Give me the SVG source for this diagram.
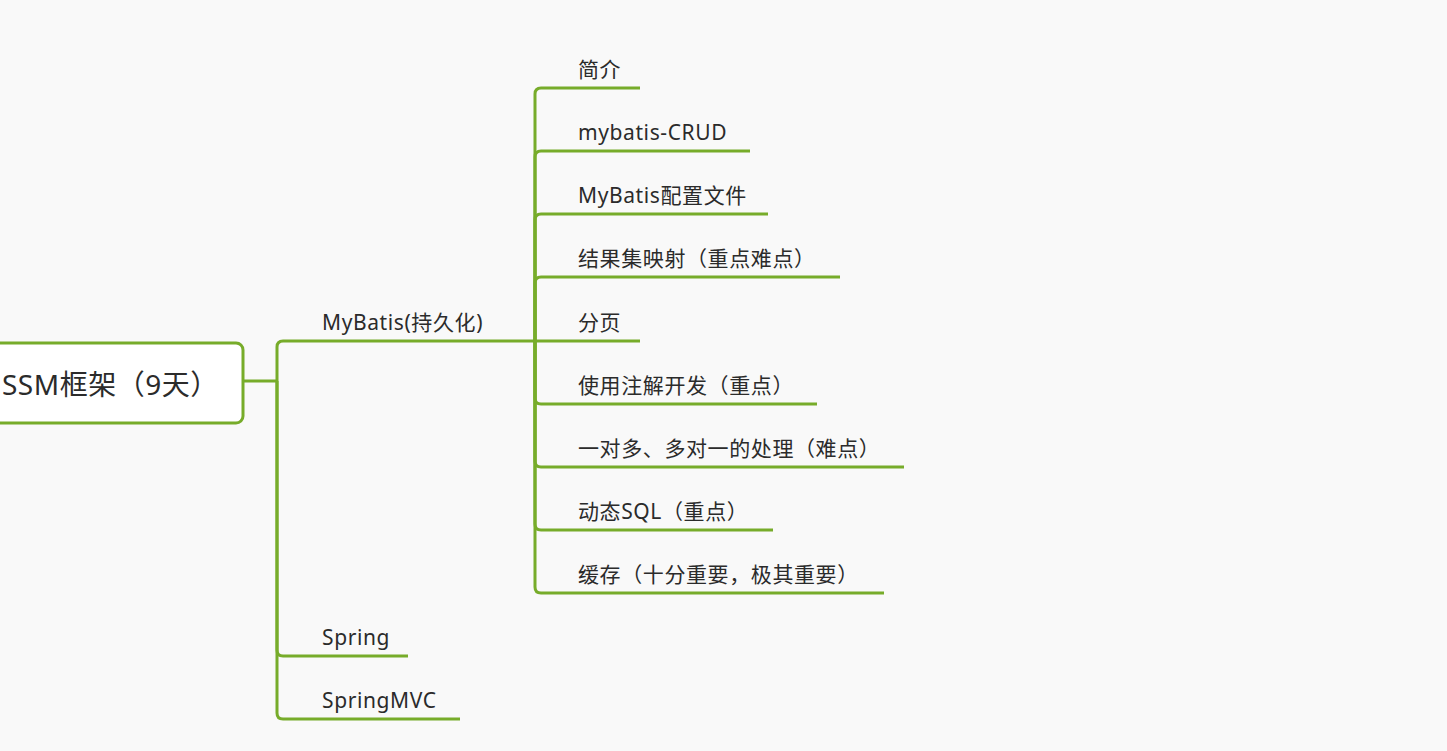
<svg xmlns="http://www.w3.org/2000/svg" width="1447" height="751" viewBox="0 0 1447 751">
<style>
.bg{fill:#f9f9f9}
.ln{fill:none;stroke:#77ac2a;stroke-width:3;stroke-linecap:butt;stroke-linejoin:round}
.t{font-family:"Noto Sans","Noto Sans CJK SC",sans-serif;font-size:21px;letter-spacing:0.6px;fill:#2b2b2b}
.rt{font-family:"Noto Sans","Noto Sans CJK SC",sans-serif;font-size:28px;letter-spacing:0.5px;fill:#2b2b2b}
</style>
<rect class="bg" x="0" y="0" width="1447" height="751"/>
<g id="connectors">
<path class="ln" d="M243,381 H277"/>
<path class="ln" d="M277,381 V347 Q277,341 283,341 H535"/>
<path class="ln" d="M277,381 V650 Q277,656 283,656 H408"/>
<path class="ln" d="M277,381 V713 Q277,719 283,719 H460"/>
<path class="ln" d="M535,341 V94 Q535,88 541,88 H640"/>
<path class="ln" d="M535,341 V157 Q535,151 541,151 H750"/>
<path class="ln" d="M535,341 V220 Q535,214 541,214 H768"/>
<path class="ln" d="M535,341 V283 Q535,277 541,277 H840"/>
<path class="ln" d="M535,341 H640"/>
<path class="ln" d="M535,341 V398 Q535,404 541,404 H817"/>
<path class="ln" d="M535,341 V461 Q535,467 541,467 H904"/>
<path class="ln" d="M535,341 V524 Q535,530 541,530 H773"/>
<path class="ln" d="M535,341 V587 Q535,593 541,593 H884"/>
</g>
<g id="root">
<rect x="-20" y="343" width="263" height="80" rx="7" fill="#ffffff" stroke="#77ac2a" stroke-width="3"/>
<text class="rt" x="2" y="395">SSM框架（9天）</text>
</g>
<g id="mybatis"><text class="t" x="322" y="330">MyBatis(持久化)</text></g>
<g id="spring"><text class="t" x="322" y="645">Spring</text></g>
<g id="springmvc"><text class="t" x="322" y="708">SpringMVC</text></g>
<g id="n1"><text class="t" x="578" y="77">简介</text></g>
<g id="n2"><text class="t" x="578" y="140">mybatis-CRUD</text></g>
<g id="n3"><text class="t" x="578" y="203">MyBatis配置文件</text></g>
<g id="n4"><text class="t" x="578" y="266">结果集映射（重点难点）</text></g>
<g id="n5"><text class="t" x="578" y="330">分页</text></g>
<g id="n6"><text class="t" x="578" y="393">使用注解开发（重点）</text></g>
<g id="n7"><text class="t" x="578" y="456">一对多、多对一的处理（难点）</text></g>
<g id="n8"><text class="t" x="578" y="519">动态SQL（重点）</text></g>
<g id="n9"><text class="t" x="578" y="582">缓存（十分重要，极其重要）</text></g>
</svg>
